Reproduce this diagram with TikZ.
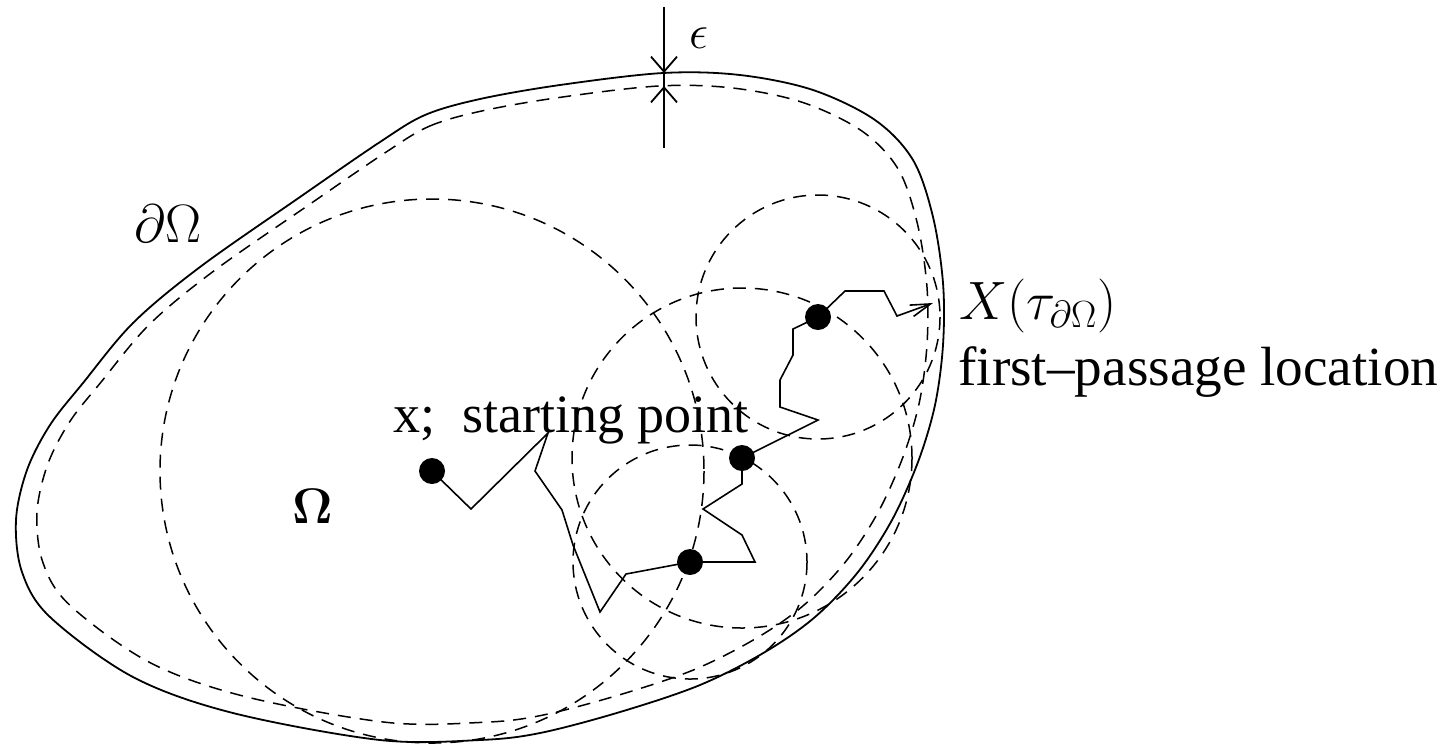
\RequirePackage{fix-cm}
\documentclass[tikz,border=0pt]{standalone}
\usepackage[no-math]{fontspec}
\setmainfont{Liberation Serif}
\usetikzlibrary{arrows.meta}
\begin{document}
\begin{tikzpicture}[x=0.5pt,y=-0.5pt,
  bnd/.style={line width=0.9pt},
  dsh/.style={line width=0.75pt, dash pattern=on 6.5pt off 4.5pt},
  walk/.style={line width=0.8pt, line join=miter},
  dot/.style={circle, fill=black, inner sep=0pt, minimum size=13pt},
  lbl/.style={inner sep=0pt, anchor=base west, font=\fontsize{27}{32}\selectfont},
  barb/.style={-{Straight Barb[length=7.5pt,width=13pt]}},
  hitarrow/.style={-{Straight Barb[length=10pt,width=6pt]}},
]
\useasboundingbox (0,0) rectangle (1454,746);

% outer boundary (solid)
\draw[bnd] plot[smooth cycle, tension=0.55] coordinates {
 (380,142) (425,115) (480,99) (560,85) (663,73) (740,75) (813,90) (875,120)
 (913,160) (933,217) (943,283) (943,345) (935,405) (918,462) (892,520)
 (858,572) (815,617) (765,652) (700,685) (620,712) (540,733) (480,740)
 (380,740) (233,713) (133,677) (50,617) (22,572) (16,520) (27,470)
 (50,425) (83,383) (133,323) (200,267) (300,197)};

% inner boundary (dashed): the same outline shrunk by epsilon
\begin{scope}[shift={(541,356)}, xscale=0.96, yscale=0.954, shift={(-541,-356)}]
\draw[dsh] plot[smooth cycle, tension=0.55] coordinates {
 (380,142) (425,115) (480,99) (560,85) (663,73) (740,75) (813,90) (875,120)
 (913,160) (933,217) (943,283) (943,345) (935,405) (918,462) (892,520)
 (858,572) (815,617) (765,652) (700,685) (620,712) (540,733) (480,740)
 (380,740) (233,713) (133,677) (50,617) (22,572) (16,520) (27,470)
 (50,425) (83,383) (133,323) (200,267) (300,197)};
\end{scope}

% centres of the walk-on-spheres steps
\coordinate (c1) at (432,471);
\coordinate (c2) at (690,562);
\coordinate (c3) at (742,458);
\coordinate (c4) at (818,317);

% dashed spheres
\draw[dsh] (c1) circle[radius=272];
\draw[dsh] (c2) circle[radius=117];
\draw[dsh] (c3) circle[radius=170];
\draw[dsh] (c4) circle[radius=122];

% random walk path
\coordinate (hit) at (933,303);
\draw[walk] (c1) -- (471,509) -- (548,433) -- (535,471) -- (562,510)
  -- (573,545) -- (600,612) -- (626,574) -- (c2);
\draw[walk] (c2) -- (755,562) -- (742,535) -- (703,509) -- (742,484) -- (c3);
\draw[walk] (c3) -- (818,420) -- (780,407) -- (780,380) -- (793,355)
  -- (793,329) -- (c4);
\draw[walk, hitarrow] (c4) -- (845,291) -- (884,291) -- (897,316) -- (hit);

% dots
\node[dot] (p1) at (c1) {};
\node[dot] (p2) at (c2) {};
\node[dot] (p3) at (c3) {};
\node[dot] (p4) at (c4) {};

% epsilon marker
\coordinate (et) at (664,7);
\coordinate (eb) at (664,148);
\coordinate (e1) at (664,73);
\coordinate (e2) at (664,86);
\draw[bnd] (et) -- (eb);
\draw[bnd, barb] (et) -- (e1);
\draw[bnd, barb] (eb) -- (e2);

% labels
\node[lbl, font=\fontsize{24}{28}\selectfont] (eps) at (689,48) {$\epsilon$};
\node[lbl] (bd) at (134,242) {$\partial\Omega$};
\node[lbl, font=\fontsize{25}{30}\selectfont] (om) at (292,523) {$\mathbf{\Omega}$};
\node[lbl] (start) at (393,432) {x;\ \ starting point};
\node[lbl] (X) at (959,319) {$X(\tau_{\partial\Omega})$};
\node[lbl, font=\fontsize{27.6}{32}\selectfont] (fp) at (958,385) {first–passage location};
\end{tikzpicture}
\end{document}
